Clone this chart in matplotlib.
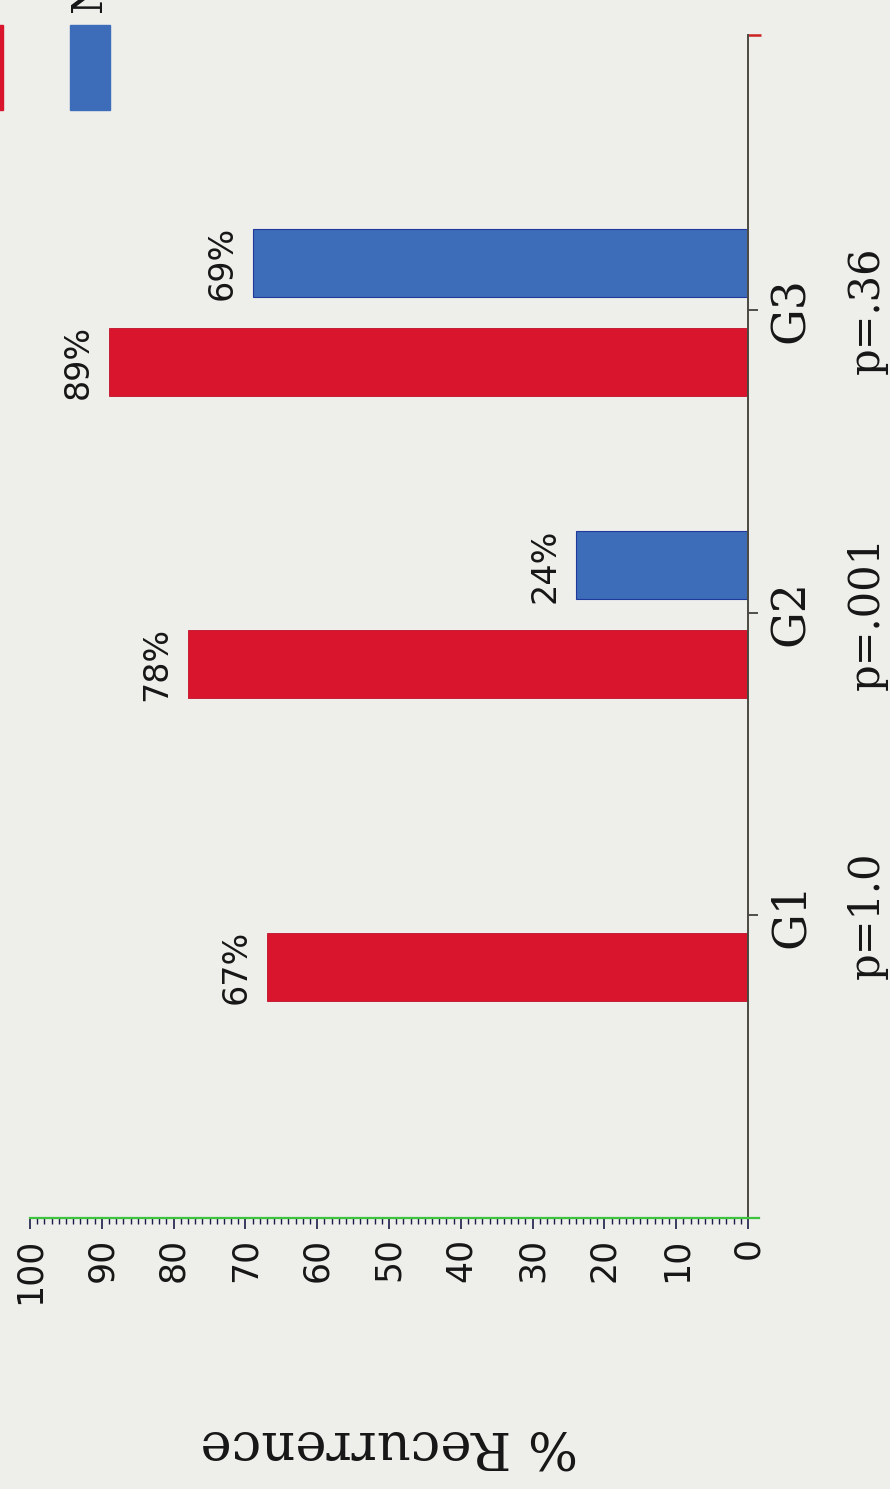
import numpy as np
import matplotlib.pyplot as plt
from matplotlib.patches import Rectangle
from matplotlib.ticker import MultipleLocator

# data
groups = ['G1', 'G2', 'G3']
p_values = ['p=1.0', 'p=.001', 'p=.36']
red_vals = [67, 78, 89]
blue_vals = [None, 24, 69]
legend_labels = ['Positive', 'Negative']

red = '#d8152d'
blue = '#3d6cb8'
bg = '#eeeeeb'
ink = '#161616'

fig = plt.figure(figsize=(8.9, 14.89), dpi=100, facecolor=bg)
ax = fig.add_axes([30/890, 1 - 1218/1489, 718/890, (1218 - 35)/1489])
ax.set_facecolor('none')

pos = np.arange(1, len(groups) + 1)
h = 0.225
ax.barh(pos - 0.17, red_vals, height=h, color=red, edgecolor='#c0102a', linewidth=0.6)
for p, v in zip(pos, blue_vals):
    if v is not None:
        ax.barh(p + 0.157, v, height=h, color=blue, edgecolor='#1f3a9a', linewidth=0.8)

# value labels
for p, v in zip(pos, red_vals):
    ax.text(v + 2, p - 0.17, f'{v}%', rotation=90, ha='right', va='center',
            fontsize=24, family='DejaVu Sans', color=ink)
for p, v in zip(pos, blue_vals):
    if v is not None:
        ax.text(v + 2, p + 0.157, f'{v}%', rotation=90, ha='right', va='center',
                fontsize=24, family='DejaVu Sans', color=ink)

ax.set_xlim(100, 0)
ax.set_ylim(0, 3.91)

# value axis (bottom)
ax.xaxis.set_major_locator(MultipleLocator(10))
ax.xaxis.set_minor_locator(MultipleLocator(1))
ax.tick_params(axis='x', which='major', length=8, width=1.2, color='#1c1c4a',
               direction='out', pad=6, labelsize=25, labelrotation=90, labelcolor=ink)
ax.tick_params(axis='x', which='minor', length=4, width=1.0, color='#1c1c4a',
               direction='out')
for lab in ax.get_xticklabels():
    lab.set_family('DejaVu Sans')

# category axis (right)
ax.yaxis.tick_right()
ax.set_yticks(pos)
ax.set_yticklabels(groups, rotation=90, va='center', ha='left',
                   fontsize=33, family='DejaVu Serif', color=ink)
ax.set_yticks([3.91], minor=True)
ax.tick_params(axis='y', which='major', length=7, width=1.2, color='#333333',
               direction='out', pad=8)
ax.tick_params(axis='y', which='minor', length=9, width=1.8, color='#cc2222',
               direction='out')

for p, pv in zip(pos, p_values):
    ax.text(1.166, p, pv, rotation=90, ha='center', va='center',
            transform=ax.get_yaxis_transform(), fontsize=30,
            family='DejaVu Serif', color=ink)

for s in ['top', 'left']:
    ax.spines[s].set_visible(False)
ax.spines['bottom'].set_color('#3cc43c')
ax.spines['bottom'].set_linewidth(1.6)
ax.spines['bottom'].set_bounds(100, -1.5)
ax.spines['right'].set_color('#4a4a40')
ax.spines['right'].set_linewidth(1.4)

ax.set_xlabel('% Recurrence', rotation=180, fontsize=38, family='DejaVu Serif',
              labelpad=84, color=ink)

# legend (rotated, mostly beyond the top edge as in the source)
for x0, c, lab in zip([-37, 70], [red, blue], legend_labels):
    fig.patches.append(Rectangle((x0/890, 1 - 110/1489), 40/890, 85/1489,
                                 transform=fig.transFigure, color=c))
    fig.text((x0 + 20)/890, 1 - 12/1489, lab, rotation=90, ha='center', va='bottom',
             fontsize=30, family='DejaVu Serif', color=ink)

fig.savefig('out.png', dpi=100, facecolor=bg)
